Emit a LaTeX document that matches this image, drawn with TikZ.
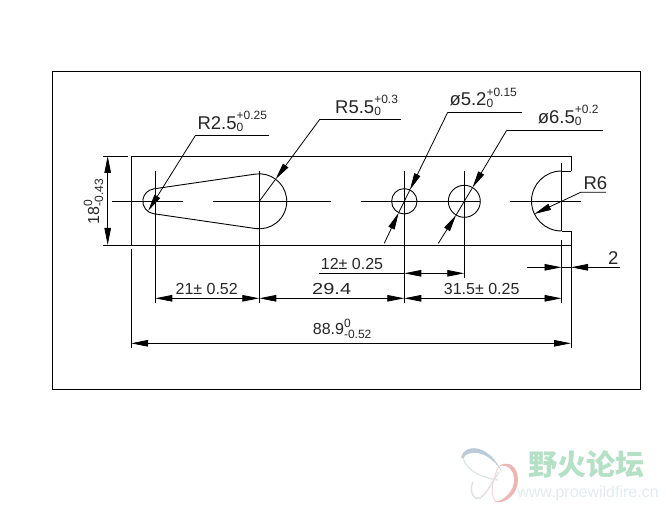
\documentclass[tikz,border=0pt]{standalone}
\usepackage{fontspec}
\setmainfont{Liberation Sans}
\newfontfamily\cjk{Noto Sans CJK SC}
\usetikzlibrary{arrows.meta}
\definecolor{logogreen}{HTML}{B4E0C6}
\definecolor{logourl}{HTML}{E2ECEE}
\definecolor{logogray}{HTML}{BCCBD8}
\definecolor{logolight}{HTML}{DDE3E6}
\definecolor{logopink}{HTML}{EDB5B3}
\tikzset{
    outline/.style={line width=0.9pt},
    thinline/.style={line width=0.8pt},
    dimline/.style={thinline, {Triangle[length=17pt,width=6.5pt]}-{Triangle[length=17pt,width=6.5pt]}},
    tipline/.style={thinline, -{Triangle[length=17pt,width=6.5pt]}},
    dimtext/.style={inner sep=0pt, anchor=base, text=black!85, font=\fontsize{16}{16}\selectfont},
    leadtext/.style={inner sep=0pt, anchor=base west, text=black!85, font=\fontsize{18.5}{19}\selectfont},
}
\newcommand{\tolpair}[4]{\mbox{\rlap{\raisebox{#3pt}{\fontsize{12}{12}\selectfont #1}}\raisebox{#4pt}{\fontsize{12}{12}\selectfont #2}}}
\begin{document}
\begin{tikzpicture}[x=1pt,y=-1pt]
    \useasboundingbox (0,0) rectangle (669,510);
    \draw[outline] (52,71) rectangle (640,389);

    % plate
    \draw[outline] (571,171) -- (571,156) -- (131,156) -- (131,245) -- (571,245) -- (571,231) -- (561.5,231);
    \draw[outline] (561.5,171) -- (571,171);
    \draw[outline] (561.5,171) arc[start angle=-90, end angle=-270, radius=30];

    % slot
    \draw[outline] (153.5,188.9) -- (255.3,174.1) arc[start angle=-98.3, end angle=98.3, radius=27.5]
        -- (153.5,213.7) arc[start angle=98.3, end angle=261.7, radius=12.5];

    % holes
    \draw[outline] (404.3,201.3) circle (12.7);
    \draw[outline] (464.3,201.3) circle (16);

    % centre lines
    \draw[thinline] (111.7,201.3) -- (182.7,201.3);
    \draw[thinline] (213.3,201.3) -- (330.7,201.3);
    \draw[thinline] (361,201.3) -- (480,201.3);
    \draw[thinline] (510,201.3) -- (580.7,201.3);

    % extension lines
    \draw[thinline] (155.3,171) -- (155.3,303);
    \draw[thinline] (259.3,171) -- (259.3,303);
    \draw[thinline] (404.3,171) -- (404.3,303);
    \draw[thinline] (464.3,171) -- (464.3,278);
    \draw[thinline] (561.5,163) -- (561.5,231);
    \draw[thinline] (561.5,240) -- (561.5,303);
    \draw[thinline] (571,245) -- (571,348);
    \draw[thinline] (131,249) -- (131,348);
    \draw[thinline] (102.7,156) -- (128,156);
    \draw[thinline] (102.7,245) -- (131,245);

    % linear dimensions
    \draw[dimline] (107.7,156) -- (107.7,245);
    \draw[dimline] (155.3,298.3) -- (259.3,298.3);
    \draw[dimline] (259.3,298.3) -- (404.3,298.3);
    \draw[dimline] (404.3,298.3) -- (561.5,298.3);
    \draw[dimline] (404.3,273.3) -- (464.3,273.3);
    \draw[thinline] (319.3,273.3) -- (404.3,273.3);
    \draw[dimline] (131,343.3) -- (571,343.3);
    \draw[tipline] (527.3,267.3) -- (561.5,267.3);
    \draw[tipline] (620,267.3) -- (571,267.3);
    \draw[thinline] (561.5,267.3) -- (571,267.3);

    \node[dimtext] (lenA) at (206.7,295) {21± 0.52};
    \node[dimtext] (lenB) at (331.7,295) {\scalebox{1.25}[1]{29.4}};
    \node[dimtext] (lenC) at (481.7,294.5) {31.5± 0.25};
    \node[dimtext] (lenD) at (352,270) {12± 0.25};
    \node[dimtext, anchor=base west] (lenE) at (312.7,335) {88.9\tolpair{0}{-0.52}{7.7}{-3.7}};
    \node[leadtext] (lenF) at (608,265) {2};
    \node[dimtext, anchor=base west, rotate=90] (lenG) at (99,224.5) {18\tolpair{0}{-0.43}{7}{-4}};

    % leaders
    \draw[thinline] (269.3,135) -- (195.7,135);
    \draw[tipline] (195.7,135) -- (148.3,210.7);
    \node[leadtext] (radA) at (197.3,129.3) {R2.5\tolpair{+0.25}{0}{9.3}{-2}};

    \draw[thinline] (400.7,119) -- (320,119);
    \draw[tipline] (320,119) -- (275.6,179.2);
    \draw[thinline] (275.6,179.2) -- (259.3,201.3);
    \node[leadtext] (radB) at (335,113.3) {R5.5\tolpair{+0.3}{0}{9.3}{-2}};

    \draw[thinline] (521.7,112.3) -- (447.7,112.3);
    \draw[tipline] (447.7,112.3) -- (409.9,189.9);
    \draw[tipline] (384.3,243.3) -- (398.7,212.7);
    \draw[thinline] (409.9,189.9) -- (398.7,212.7);
    \node[leadtext] (diaA) at (449.3,105.5) {ø5.2\tolpair{+0.15}{0}{9.3}{-2}};

    \draw[thinline] (602.7,130.3) -- (506.7,130.3);
    \draw[tipline] (506.7,130.3) -- (472.5,187.6);
    \draw[tipline] (438.3,243.3) -- (456.1,215);
    \draw[thinline] (472.5,187.6) -- (456.1,215);
    \node[leadtext] (diaB) at (537.7,123.3) {ø6.5\tolpair{+0.2}{0}{9.3}{-2}};

    \draw[thinline] (606,192.3) -- (580.7,192.3) -- (561.5,201.3);
    \draw[tipline] (561.5,201.3) -- (534.3,214);
    \node[leadtext] (radC) at (583.3,190) {R6};

    % watermark
    \draw[logolight, line width=1.2pt] (463,458) .. controls (467,472) and (484,478) .. (498,480);
    \draw[logolight, line width=1.5pt] (473,482) .. controls (468,492) and (475,501) .. (480,498) .. controls (487,494) and (492,482) .. (499,472);
    \draw[logopink!60, line width=0.8pt] (499,466) .. controls (493,478) and (489,494) .. (496,502);
    \fill[logogray] (461,458) .. controls (463,444) and (488,442) .. (502,472) .. controls (490,452) and (470,448) .. (463,458) -- cycle;
    \fill[logopink] (499,466) .. controls (508,460) and (518,466) .. (518,480) .. controls (518,494) and (506,504) .. (495,502) .. controls (506,500) and (514,490) .. (514,480) .. controls (514,470) and (508,464) .. (499,466) -- cycle;
    \node[inner sep=0pt, text=logogreen, font=\cjk\bfseries\fontsize{29}{29}\selectfont] (logoA) at (586.5,464) {野火论坛};
    \node[inner sep=0pt, text=logourl, font=\fontsize{16}{16}\selectfont] (logoB) at (588,493) {www.proewildfire.cn};
\end{tikzpicture}
\end{document}
